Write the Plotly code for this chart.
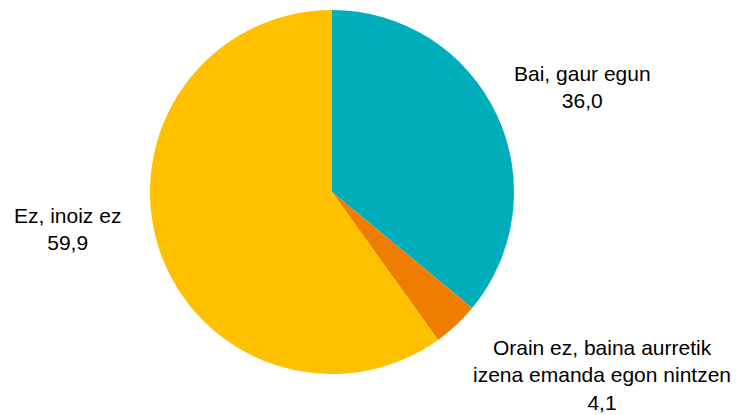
import plotly.graph_objects as go

labels = ["Bai, gaur egun", "Orain ez, baina aurretik<br>izena emanda egon nintzen", "Ez, inoiz ez"]
values = [36.0, 4.1, 59.9]
colors = ["#00ADBB", "#EF7D00", "#FFC000"]

# label anchor positions (paper coords) for annotations
label_x = [1.187, 1.243, -0.228]
label_y = [0.788, -0.002, 0.398]

fig = go.Figure(go.Pie(
    labels=labels,
    values=values,
    sort=False,
    direction="clockwise",
    rotation=0,
    marker=dict(colors=colors, line=dict(width=0)),
    textinfo="none",
    hoverinfo="label+value",
    showlegend=False,
))

for lab, v, x, y in zip(labels, values, label_x, label_y):
    fig.add_annotation(
        x=x, y=y, xref="paper", yref="paper",
        text=f"{lab}<br>{v:.1f}".replace(".", ","),
        showarrow=False, align="center",
        xanchor="center", yanchor="middle",
        font=dict(family="Liberation Sans, Arial, sans-serif", size=21, color="#000000"),
    )

fig.update_layout(
    width=739, height=415,
    margin=dict(l=142, r=233, t=2, b=49),
    paper_bgcolor="white", plot_bgcolor="white",
)

fig.write_html("out.html")
